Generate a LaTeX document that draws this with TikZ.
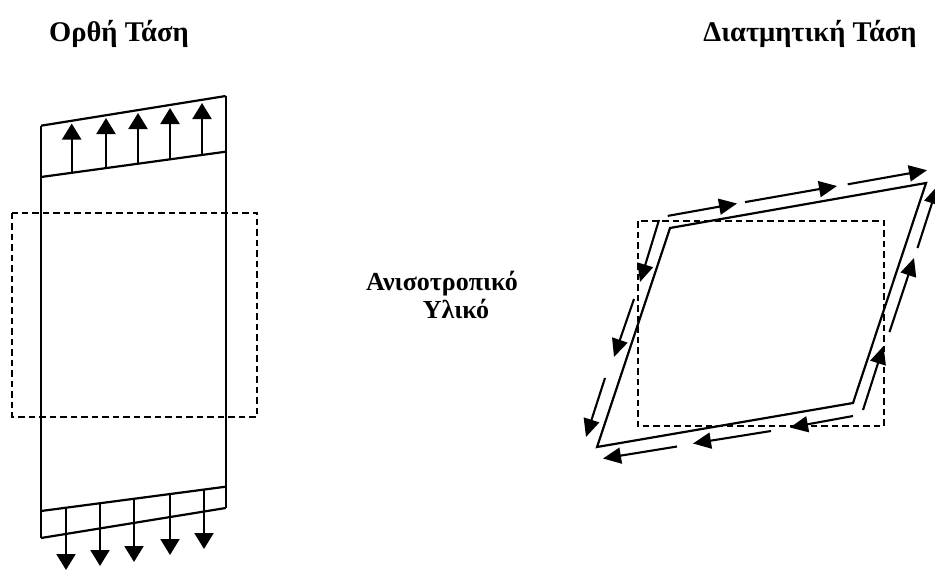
\documentclass[tikz,border=0pt]{standalone}
\usepackage{fontspec}
\setmainfont{Liberation Serif}
\usetikzlibrary{arrows.meta}
\tikzset{
  solidline/.style={line width=2.2pt, line join=miter},
  dashline/.style={line width=1.9pt, dash pattern=on 6.5pt off 4pt},
  forcearrow/.style={line width=2.2pt, -{Triangle[length=16pt,width=19pt]}},
  sheararrow/.style={line width=2.1pt, -{Triangle[length=18pt,width=16pt]}},
  titletext/.style={font=\bfseries\fontsize{28.5}{32}\selectfont, anchor=base},
  labtext/.style={font=\bfseries\fontsize{26}{30}\selectfont, anchor=base},
}
\begin{document}
\begin{tikzpicture}[x=1pt,y=-1pt]
\useasboundingbox (0,0) rectangle (935,571);

% titles
\node[titletext] (t1) at (119,41) {Ορθή Τάση};
\node[titletext] (t2) at (810,41) {Διατμητική Τάση};
\node[labtext] (lab1) at (442,290) {Ανισοτροπικό};
\node[labtext] (lab2) at (456,318) {Υλικό};

% ---------- left figure: normal stress ----------
\coordinate (TL) at (41,125.7);
\coordinate (TR) at (225.7,96);
\coordinate (IL) at (41,177);
\coordinate (IR) at (225.7,151.7);
\coordinate (BUL) at (41,511);
\coordinate (BUR) at (225.7,486.7);
\coordinate (BLL) at (41,538);
\coordinate (BLR) at (225.7,508);
\draw[solidline] (TL) -- (TR);
\draw[solidline] (IL) -- (IR);
\draw[solidline] (BUL) -- (BUR);
\draw[solidline] (BLL) -- (BLR);
\draw[solidline] (TL) -- (BLL);
\draw[solidline] (TR) -- (BLR);

% upward arrows
\foreach \i/\x/\b/\t in {1/71.7/172.8/123.5, 2/106/168.1/118, 3/138/163.7/113, 4/170/159.3/108, 5/202/154.9/103}{
  \coordinate (ua\i) at (\x,\b);
  \coordinate (ub\i) at (\x,\t);
  \draw[forcearrow] (ua\i) -- (ub\i);
}
% downward arrows
\foreach \i/\x/\b/\t in {1/66/507.7/570, 2/100/503.2/566, 3/134/498.8/562, 4/170/494/555, 5/204/489.6/549}{
  \coordinate (da\i) at (\x,\b);
  \coordinate (db\i) at (\x,\t);
  \draw[forcearrow] (da\i) -- (db\i);
}
% dashed reference square
\coordinate (DL1) at (12,212.7);
\coordinate (DL2) at (257,416.7);
\draw[dashline] (DL1) rectangle (DL2);

% ---------- right figure: shear stress ----------
\coordinate (P1) at (670,228);
\coordinate (P2) at (926,183);
\coordinate (P3) at (853,403);
\coordinate (P4) at (597,447);
\draw[solidline] (P1) -- (P2) -- (P3) -- (P4) -- cycle;
\coordinate (DR1) at (637.7,221);
\coordinate (DR2) at (884,426);
\draw[dashline] (DR1) rectangle (DR2);

% top side arrows (to the right)
\foreach \i/\xa/\ya/\xb/\yb in {1/667.7/215.9/737/203.5, 2/745/202.1/837/186, 3/847.7/184.3/927/170.2}{
  \coordinate (sa\i) at (\xa,\ya);
  \coordinate (sb\i) at (\xb,\yb);
  \draw[sheararrow] (sa\i) -- (sb\i);
}
% right side arrows (upwards)
\foreach \i/\xa/\ya/\xb/\yb in {1/863/410/883.5/346, 2/889.5/332/914/258, 3/917.5/248/937.5/186}{
  \coordinate (ra\i) at (\xa,\ya);
  \coordinate (rb\i) at (\xb,\yb);
  \draw[sheararrow] (ra\i) -- (rb\i);
}
% bottom side arrows (to the left)
\foreach \i/\xa/\ya/\xb/\yb in {1/853/416/790/427.5, 2/771/431/693/443.5, 3/677/446.5/603/458.5}{
  \coordinate (ba\i) at (\xa,\ya);
  \coordinate (bb\i) at (\xb,\yb);
  \draw[sheararrow] (ba\i) -- (bb\i);
}
% left side arrows (downwards)
\foreach \i/\xa/\ya/\xb/\yb in {1/659/220/640/282, 2/634/299/614/357, 3/605/378/586/437}{
  \coordinate (la\i) at (\xa,\ya);
  \coordinate (lb\i) at (\xb,\yb);
  \draw[sheararrow] (la\i) -- (lb\i);
}
\end{tikzpicture}
\end{document}
